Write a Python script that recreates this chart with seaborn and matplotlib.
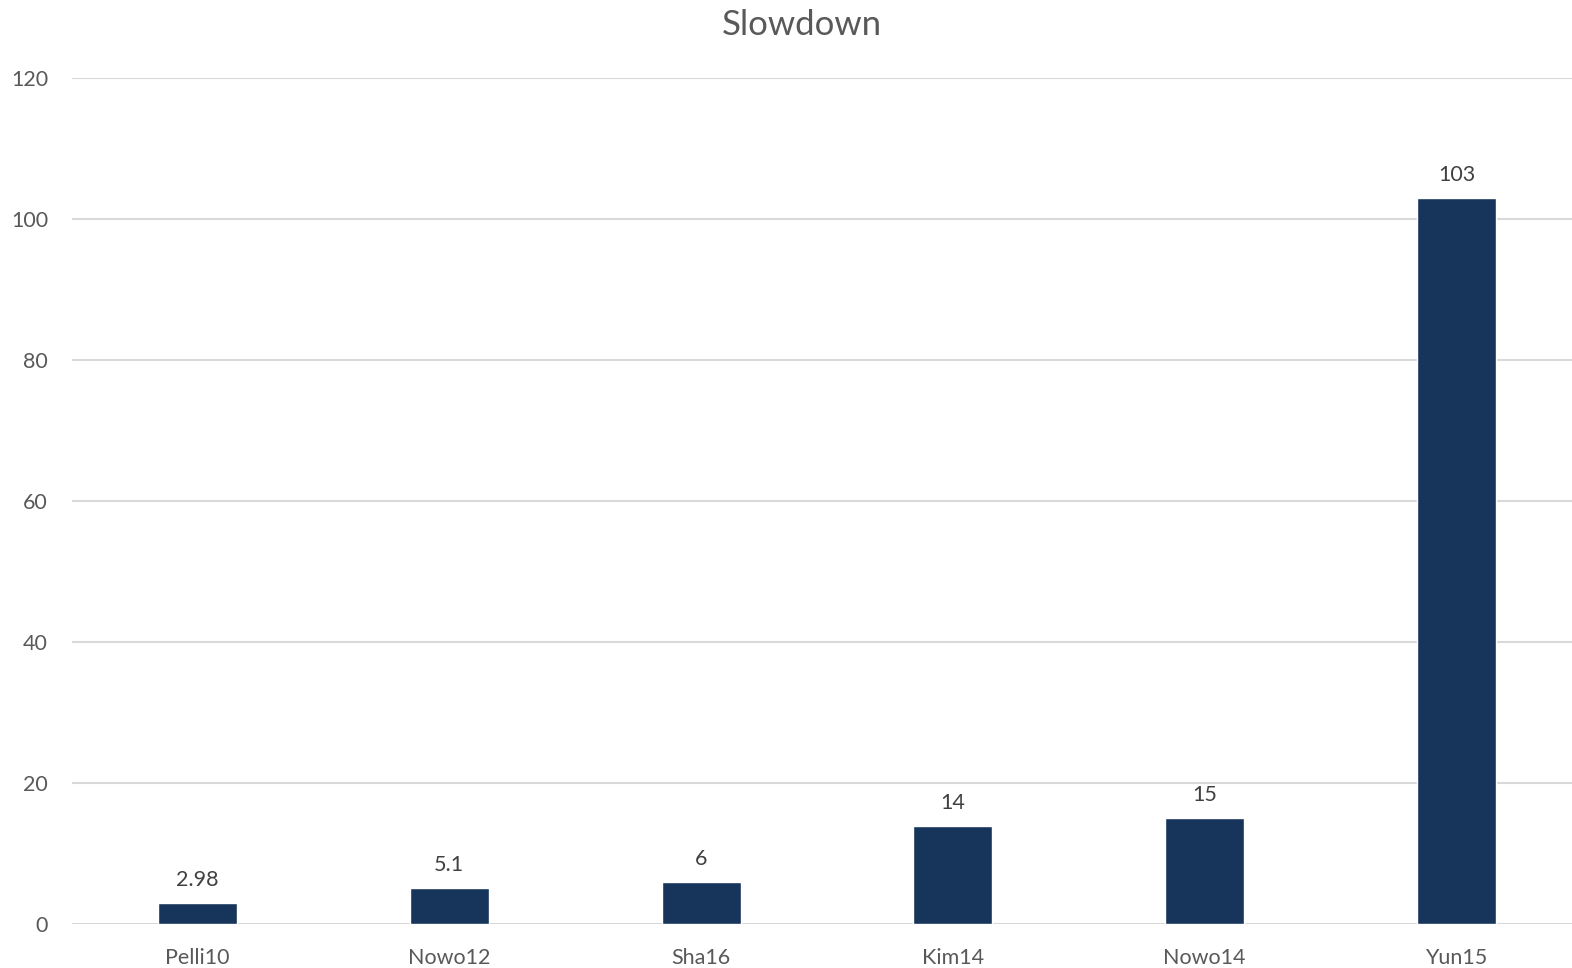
import matplotlib
matplotlib.use("Agg")
import matplotlib.pyplot as plt
import seaborn as sns
import pandas as pd

categories = ["Pelli10", "Nowo12", "Sha16", "Kim14", "Nowo14", "Yun15"]
values = [2.98, 5.1, 6, 14, 15, 103]
value_labels = ["2.98", "5.1", "6", "14", "15", "103"]
y_ticks = [0, 20, 40, 60, 80, 100, 120]

sns.set_theme(style="white")
plt.rcParams["font.family"] = ["Lato", "DejaVu Sans"]

df = pd.DataFrame({"cat": categories, "val": values})

fig = plt.figure(figsize=(15.72, 9.68), dpi=100)
ax = fig.add_axes([71.6 / 1572, 1 - 924.3 / 968, 1 - 71.6 / 1572, (924.3 - 77.7) / 968])

sns.barplot(data=df, x="cat", y="val", color="#17355B", saturation=1,
            width=0.314, ax=ax, zorder=3)

ax.set_ylim(0, 120)
ax.set_xlim(-0.5, 5.459)
ax.set_yticks(y_ticks)
ax.set_yticklabels([str(t) for t in y_ticks])
ax.grid(axis="y", color="#D9D9D9", linewidth=1.5)
ax.grid(axis="x", visible=False)
ax.set_axisbelow(True)
for s in ax.spines.values():
    s.set_visible(False)
ax.set_xlabel("")
ax.set_ylabel("")
ax.tick_params(axis="y", length=0, pad=17, labelsize=15.5, labelcolor="#595959")
ax.tick_params(axis="x", length=0, pad=17, labelsize=15.5, labelcolor="#595959")

for i, (v, lab) in enumerate(zip(values, value_labels)):
    ax.annotate(lab, (i, v), xytext=(0, 17), textcoords="offset pixels",
                ha="center", va="baseline", fontsize=15.5, color="#404040")

fig.text(802 / 1572, 1 - 35 / 968, "Slowdown", ha="center", va="baseline",
         fontsize=25, color="#595959")

fig.savefig("out.png", dpi=100)
